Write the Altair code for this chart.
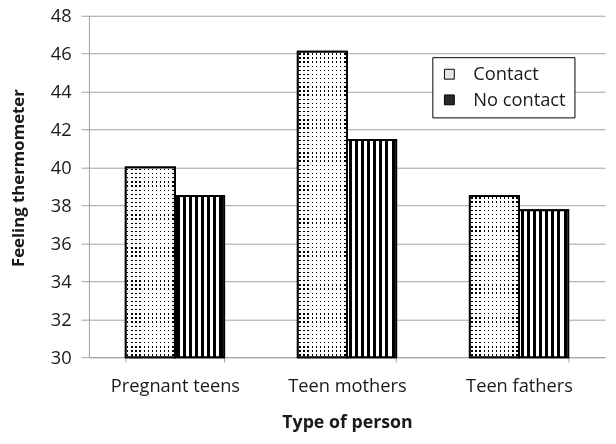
import altair as alt
import pandas as pd

categories = ["Pregnant teens", "Teen mothers", "Teen fathers"]
groups = ["Contact", "No contact"]
contact_vals = [40.0, 46.1, 38.5]
no_contact_vals = [38.5, 41.45, 37.75]
y_ticks = list(range(30, 49, 2))

rows = []
for c, a, b in zip(categories, contact_vals, no_contact_vals):
    rows.append({"cat": c, "group": "Contact", "value": a})
    rows.append({"cat": c, "group": "No contact", "value": b})
df = pd.DataFrame(rows)

PLOT_W, PLOT_H = 523, 346
Y_MIN, Y_MAX = 30, 48
GRAY = "#a0a0a0"
FONT = "Open Sans"


def stripes(n, frac, bg, fg, horizontal):
    stops = []
    for i in range(n):
        a = i / n
        s = a + (1 - frac) / 2 / n
        e = a + (1 + frac) / 2 / n
        b = (i + 1) / n
        stops += [
            {"offset": a, "color": bg},
            {"offset": s, "color": bg},
            {"offset": s, "color": fg},
            {"offset": e, "color": fg},
            {"offset": e, "color": bg},
            {"offset": b, "color": bg},
        ]
    g = {"gradient": "linear", "stops": stops}
    if horizontal:
        g.update({"x1": 0, "x2": 1, "y1": 0, "y2": 0})
    else:
        g.update({"x1": 0, "x2": 0, "y1": 0, "y2": 1})
    return g


x_enc = alt.X(
    "cat:N",
    scale=alt.Scale(domain=categories, paddingInner=0.4286, paddingOuter=0.2143),
    title="Type of person",
    axis=alt.Axis(
        labelAngle=0,
        tickBand="extent",
        tickSize=5,
        tickColor=GRAY,
        domainColor=GRAY,
        labelPadding=15,
        labelFont=FONT,
        labelFontSize=18.5,
        labelColor="#1a1a1a",
        titleFont=FONT,
        titleFontSize=18,
        titleFontWeight="bold",
        titleColor="#1a1a1a",
        titlePadding=19,
    ),
)
xo_enc = alt.XOffset(
    "group:N", scale=alt.Scale(domain=groups, paddingInner=0, paddingOuter=0)
)
y_enc = alt.Y(
    "value:Q",
    scale=alt.Scale(domain=[Y_MIN, Y_MAX], zero=False, nice=False),
    title="Feeling thermometer",
    axis=alt.Axis(
        values=y_ticks,
        grid=True,
        gridColor=GRAY,
        domainColor=GRAY,
        tickColor=GRAY,
        tickSize=8,
        labelPadding=10,
        labelFont=FONT,
        labelFontSize=18.5,
        labelColor="#1a1a1a",
        titleFont=FONT,
        titleFontSize=17,
        titleFontWeight="bold",
        titleColor="#1a1a1a",
        titlePadding=23,
        titleY=164,
    ),
)
y2_enc = alt.datum(Y_MIN)

base = alt.Chart(df)

legend_layer = base.mark_bar(stroke="black", strokeWidth=2).encode(
    x=x_enc,
    xOffset=xo_enc,
    y=y_enc,
    y2=y2_enc,
    fill=alt.Fill(
        "group:N",
        scale=alt.Scale(domain=groups, range=["#e6e6e6", "#2a2a2a"]),
        legend=alt.Legend(
            title=None,
            orient="none",
            legendX=348,
            legendY=42,
            strokeColor="black",
            fillColor="white",
            padding=8,
            symbolType="square",
            symbolSize=100,
            symbolStrokeColor="black",
            symbolStrokeWidth=1,
            labelFont=FONT,
            labelFontSize=18.5,
            labelColor="#1a1a1a",
            labelOffset=15,
            rowPadding=7,
        ),
    ),
)

contact_cols = (
    base.transform_filter(alt.datum.group == "Contact")
    .mark_bar(fill=stripes(12, 0.32, "white", "black", True), strokeWidth=0)
    .encode(x=x_enc, xOffset=xo_enc, y=y_enc, y2=y2_enc)
)

no_contact_stripes = (
    base.transform_filter(alt.datum.group == "No contact")
    .mark_bar(fill=stripes(8, 0.5, "white", "black", True), strokeWidth=0)
    .encode(x=x_enc, xOffset=xo_enc, y=y_enc, y2=y2_enc)
)

dot_rows = []
for c, v in zip(categories, contact_vals):
    h_px = (v - Y_MIN) / (Y_MAX - Y_MIN) * PLOT_H
    n = max(1, round(h_px / 4.2))
    dot_rows.append(
        base.transform_filter(
            (alt.datum.group == "Contact") & (alt.datum.cat == c)
        )
        .mark_bar(
            fill=stripes(n, 0.32, "white", "black", False),
            strokeWidth=0,
            blend="lighten",
        )
        .encode(x=x_enc, xOffset=xo_enc, y=y_enc, y2=y2_enc)
    )

outlines = base.mark_bar(
    fillOpacity=0, stroke="black", strokeWidth=2
).encode(x=x_enc, xOffset=xo_enc, y=y_enc, y2=y2_enc)

chart = (
    alt.layer(legend_layer, contact_cols, no_contact_stripes, *dot_rows, outlines)
    .properties(
        width=PLOT_W,
        height=PLOT_H,
        autosize=alt.AutoSizeParams(type="none"),
        padding={"left": 82, "top": 5, "right": 3, "bottom": 76},
    )
    .configure_view(stroke=None)
)

chart.save("out.html", embed_options={"renderer": "svg", "actions": False})
